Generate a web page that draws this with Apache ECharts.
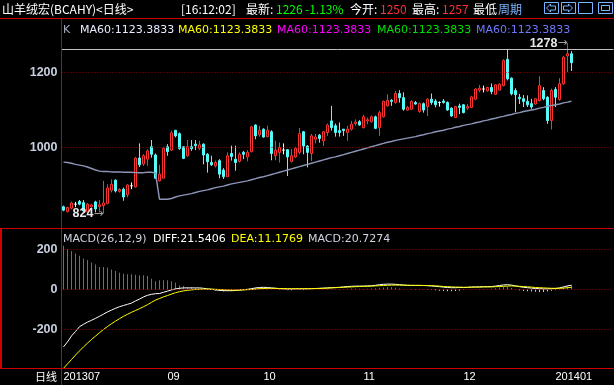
<!DOCTYPE html>
<html><head><meta charset="utf-8">
<script src="https://cdn.jsdelivr.net/npm/echarts@6/dist/echarts.min.js"></script>
<style>html,body{margin:0;padding:0;background:#000;}#c{width:614px;height:385px;}</style>
</head><body><div id="c"></div>
<script>
// ---- data ----
const opens = [
 842,829,838,849,856,853,829,842,855,842,
 845,851,886,913,883,889,874,898,895,972,
 956,969,1002,980,911,918,1002,993,1046,1037,
 1002,978,1002,1009,998,1009,982,960,951,965,
 940,922,984,969,963,987,975,989,1060,1034,
 1049,1029,1042,978,987,993,994,963,975,987,
 1042,1004,984,1022,1033,1018,1040,1071,1058,1045,
 1049,1040,1049,1064,1069,1053,1071,1069,1082,1053,
 1082,1111,1126,1120,1144,1133,1100,1102,1120,1096,
 1117,1109,1129,1124,1120,1124,1120,1105,1080,1111,
 1114,1105,1107,1129,1153,1156,1151,1160,1142,1153,
 1165,1235,1185,1152,1134,1130,1123,1117,1116,1125,
 1152,1134,1072,1155,1128,1170,1244,1250];
const closes = [
 833,840,852,849,849,831,849,847,836,847,
 852,892,902,884,888,868,900,898,972,954,
 978,991,982,918,929,998,989,1039,1031,997,
 971,1002,997,1005,1007,980,962,954,960,929,
 922,978,976,960,982,982,987,1055,1031,1046,
 1028,1046,984,993,1000,993,975,978,998,1037,
 1004,987,1031,1028,1024,1042,1060,1053,1040,1040,
 1045,1049,1062,1068,1060,1082,1074,1082,1051,1093,
 1123,1126,1123,1144,1133,1102,1107,1123,1116,1117,
 1100,1129,1120,1114,1120,1120,1100,1084,1109,1107,
 1093,1109,1135,1156,1158,1156,1160,1149,1167,1169,
 1232,1183,1143,1141,1130,1123,1114,1108,1130,1165,
 1130,1072,1152,1134,1170,1241,1250,1226];
const lows = [
 830,827,835,841,846,826,826,838,827,827,
 824,849,880,880,880,858,867,889,893,948,
 951,951,973,916,909,918,978,991,1027,994,
 969,975,991,993,993,955,933,951,947,918,
 916,922,965,938,960,969,963,987,1022,1029,
 1026,1027,966,966,960,982,924,960,972,982,
 982,947,964,1011,1013,1004,1031,1045,1029,1029,
 1031,1018,1045,1058,1058,1051,1062,1066,1049,1031,
 1080,1109,1111,1117,1120,1098,1098,1100,1114,1093,
 1093,1084,1114,1107,1109,1117,1098,1082,1080,1089,
 1091,1100,1105,1126,1147,1147,1149,1142,1140,1151,
 1163,1179,1139,1094,1116,1108,1108,1103,1114,1123,
 1126,1063,1048,1108,1125,1167,1201,1204];
const highs = [
 845,842,856,855,860,860,852,850,858,860,
 911,902,915,915,891,893,902,907,975,1011,
 982,995,1020,984,954,1002,1009,1045,1046,1040,
 1002,1020,1020,1020,1018,1011,985,978,965,969,
 945,987,1005,1005,987,991,993,1058,1062,1058,
 1051,1058,1046,1018,1013,1011,996,996,1002,1052,
 1044,1006,1036,1036,1036,1044,1064,1111,1064,1067,
 1049,1058,1071,1075,1073,1087,1080,1085,1085,1098,
 1125,1142,1129,1151,1153,1147,1111,1126,1124,1120,
 1120,1131,1144,1129,1123,1129,1123,1107,1111,1117,
 1116,1116,1138,1158,1167,1165,1162,1171,1169,1171,
 1235,1263,1187,1158,1143,1140,1139,1130,1132,1190,
 1161,1137,1157,1161,1185,1244,1278,1257];
const ma60 = [
 961,960,958,955,953,951,948,944,940,937,
 936,936,935,935,935,934,934,934,933,933,
 933,934,934,932,862,862,862,864,868,871,
 873,875,877,880,883,885,887,890,893,895,
 897,900,903,905,907,909,911,914,917,920,
 922,925,928,931,934,937,940,943,946,949,
 952,955,958,961,964,967,970,973,975,978,
 981,984,987,990,993,996,999,1002,1005,1008,
 1011,1014,1016,1019,1021,1023,1025,1027,1029,1032,
 1034,1037,1039,1042,1044,1046,1049,1051,1054,1056,
 1059,1061,1063,1066,1068,1071,1073,1076,1078,1081,
 1083,1086,1088,1091,1093,1096,1098,1100,1102,1105,
 1107,1110,1112,1114,1116,1119,1121,1123.3833];
const diff = [
 -287,-262,-232,-210,-186,-174,-163,-154,-144,-134,
 -123,-112,-103,-94,-86,-80,-74,-68,-57,-48,
 -37,-29,-24,-21,-20,-14,-8,-2,3,6,
 8,8,8,8,8,6,3,1,-2,-4,
 -6,-6,-6,-5,-3,-1,1,4,8,10,
 11,10,8,6,4,3,2,2,3,3,
 3,3,4,5,6,7,8,9,10,11,
 13,15,16,17,17,17,18,19,21,24,
 26,27,27,26,24,22,21,20,20,20,
 20,19,18,16,14,12,10,9,9,10,
 10,11,12,13,13,14,14,15,17,20,
 23,24,22,18,14,11,9,7,5,4,
 3,3,4,5,8,13,18,21.5406];
const dea = [
 -394,-372,-350,-328,-307,-287,-268,-250,-233,-216,
 -200,-185,-171,-158,-146,-134,-124,-114,-105,-96,
 -86,-76,-64,-53,-45,-37,-30,-23,-16,-11,
 -7,-4,-2,0,1,2,2,2,1,0,
 -1,-2,-3,-3,-3,-2,-1,0,2,4,
 5,6,6,6,5,5,4,4,4,4,
 4,4,4,5,5,6,7,8,9,10,
 11,12,13,14,15,16,16,17,18,19,
 20,21,22,22,22,22,21,21,21,21,
 20,20,19,18,17,15,14,13,12,12,
 11,11,12,12,12,13,13,13,14,15,
 16,17,18,17,16,15,13,12,10,9,
 8,7,6,6,6,7,9,11.1769];
const macd = [
 219,202,192,180,169,155,147,135,125,113,
 113,110,100,93,84,79,76,76,74,71,
 71,68,54,41,46,46,46,41,34,20,
 17,12,12,7,5,3,1,-2,-5,-7,
 -9,-8,-7,-5,-2,1,3,6,8,9,
 9,7,4,1,-1,-3,-4,-4,-2,-2,
 -2,-1,0,1,2,2,3,3,3,3,
 3,4,5,5,4,3,4,5,6,8,
 10,12,11,9,5,1,0,-1,-2,-2,
 -1,-2,-3,-4,-6,-7,-9,-9,-8,-6,
 -3,0,1,2,2,2,2,4,6,10,
 13,14,8,2,-4,-7,-9,-10,-11,-12,
 -12,-10,-6,-2,4,12,18,20.7274];
const monthStarts = [0, 26, 50, 75, 100, 123];
const monthLabels = ['201307', '09', '10', '11', '12', '201401'];
const priceTicks = [1000, 1200];
const macdTicks = [-200, 0, 200];
const topLineValue = 1263;
const slotCount = 138;
const headerTitle = '山羊绒宏(BCAHY)<日线>';
const headerTime = '[16:12:02]';
const headerChange = '-1.13%';

// ---- build ----
const n = opens.length;
const categories = Array.from({length: slotCount}, (_, i) => String(i));
const kData = opens.map((o, i) => [o, closes[i], lows[i], highs[i]]);
let hiIdx = 0, loIdx = 0;
highs.forEach((v, i) => { if (v > highs[hiIdx]) hiIdx = i; });
lows.forEach((v, i) => { if (v < lows[loIdx]) loIdx = i; });

const RED = '#ff3232', CYAN = '#54fcfc', FRAME = '#d00000', GRID = '#a00000';
const LEG = '11px "DejaVu Sans"';
const HDR = '12px "Noto Sans CJK SC"';
const macdItems = macd.map(v => ({value: v, itemStyle: {color: v >= 0 ? RED : CYAN, opacity: 1}}));

function t(x, y, text, fill, font, extra) {
  return Object.assign({type: 'text', x: x, y: y, silent: true, z: 120,
    style: {text: text, fill: fill, font: font || HDR, verticalAlign: 'middle'}}, extra || {});
}
function ln(x1, y1, x2, y2, stroke, w) {
  return {type: 'line', silent: true, z: 110, shape: {x1, y1, x2, y2}, style: {stroke: stroke, lineWidth: w || 1}};
}
const ICON = '#78b4ff';
function box(x, y, w, h) {
  return {type: 'rect', silent: true, z: 120, shape: {x: x + 0.5, y: y + 0.5, width: w, height: h}, style: {fill: 'none', stroke: ICON, lineWidth: 1}};
}
function poly(pts) {
  return {type: 'polygon', silent: true, z: 120, shape: {points: pts}, style: {fill: 'none', stroke: ICON, lineWidth: 1}};
}

const maTxt = 'MA60:' + ma60[n - 1].toFixed(4);
const graphic = [
  // header
  t(2, 9, headerTitle, '#ffffff'),
  t(181, 9, headerTime, '#ffffff'),
  t(246, 9, '最新:', '#ffffff'),
  t(276, 9, String(closes[n - 1]), '#00ff00'),
  t(305, 9, headerChange, '#00ff00'),
  t(350, 9, '今开:', '#ffffff'),
  t(380, 9, String(opens[n - 1]), RED),
  t(412, 9, '最高:', '#ffffff'),
  t(442, 9, String(highs[n - 1]), RED),
  t(473, 9, '最低', '#ffffff'),
  {type: 'rect', silent: true, z: 119, shape: {x: 497, y: 0, width: 117, height: 17}, style: {fill: '#000'}},
  t(498, 9, '周期', ICON),
  ln(498, 13.5, 522, 13.5, ICON, 1),
  box(544, 2, 14, 11), poly([[546.5,8],[550.5,4],[550.5,6],[555.5,6],[555.5,10],[550.5,10],[550.5,12]]),
  box(561, 2, 14, 11), poly([[572.5,8],[568.5,4],[568.5,6],[563.5,6],[563.5,10],[568.5,10],[568.5,12]]),
  box(578, 2, 14, 11), ln(578, 8.5, 587, 8.5, ICON), ln(587.5, 2, 587.5, 13, ICON), ln(589, 5.5, 591, 5.5, ICON), ln(589, 10.5, 591, 10.5, ICON),
  box(598, 2, 14, 11), box(601, 5, 8, 5),
  // MA legend
  t(63, 30, 'K', '#a8b0c0', LEG),
  t(80, 30, maTxt, '#e8ecff', LEG),
  t(178, 30, maTxt, '#ffff00', LEG),
  t(277, 30, maTxt, '#ff00ff', LEG),
  t(377, 30, maTxt, '#00e000', LEG),
  t(476, 30, maTxt, '#7078ff', LEG),
  // MACD legend
  t(63, 239, 'MACD(26,12,9)', '#d0d4e0', LEG),
  t(153, 239, 'DIFF:' + diff[n - 1].toFixed(4), '#ffffff', LEG),
  t(231, 239, 'DEA:' + dea[n - 1].toFixed(4), '#ffff00', LEG),
  t(308, 239, 'MACD:' + macd[n - 1].toFixed(4), '#d0d4e0', LEG),
  t(35, 377, '日线', '#ffffff', '11px "Noto Sans CJK SC"'),
  // frame
  ln(0, 18.5, 614, 18.5, FRAME),
  ln(61.5, 18, 61.5, 385, FRAME),
  ln(0, 228.5, 614, 228.5, FRAME),
  ln(0, 368.5, 614, 368.5, FRAME),
  ln(1, 228, 1, 369, FRAME, 2)
];

const option = {
  animation: false,
  backgroundColor: '#000',
  grid: [
    {left: 61.5, right: 0.5, top: 18.5, height: 204},
    {left: 61.5, right: 0.5, top: 229.5, height: 140}
  ],
  xAxis: [
    {type: 'category', gridIndex: 0, data: categories, boundaryGap: true,
     axisLine: {show: false}, axisTick: {show: false}, axisLabel: {show: false}, splitLine: {show: false}},
    {type: 'category', gridIndex: 1, data: categories, boundaryGap: true,
     axisLine: {show: false}, axisTick: {show: false}, splitLine: {show: false},
     axisLabel: {show: true, interval: (idx) => monthStarts.includes(idx),
       formatter: (v, idx) => { const k = monthStarts.indexOf(idx); return k >= 0 ? monthLabels[k] : ''; },
       align: 'left', color: '#ffffff', fontSize: 11, fontFamily: 'Liberation Sans', margin: 2}}
  ],
  yAxis: [
    {type: 'value', gridIndex: 0, min: 800, max: 1344, interval: 200,
     axisLine: {show: false}, axisTick: {show: false}, splitLine: {show: false},
     axisLabel: {formatter: v => priceTicks.includes(v) ? String(v) : '', color: '#c8d0e0',
       fontWeight: 'bold', fontSize: 12.5, fontFamily: 'Liberation Sans', margin: 4, showMaxLabel: false}},
    {type: 'value', gridIndex: 1, min: -400, max: 300, interval: 100,
     axisLine: {show: false}, axisTick: {show: false}, splitLine: {show: false},
     axisLabel: {formatter: v => macdTicks.includes(v) ? String(v) : '', color: '#c8d0e0',
       fontWeight: 'bold', fontSize: 12.5, fontFamily: 'Liberation Sans', margin: 4}}
  ],
  series: [
    {type: 'candlestick', xAxisIndex: 0, yAxisIndex: 0, data: kData, barWidth: 3,
     itemStyle: {color: '#000000', color0: CYAN, borderColor: RED, borderColor0: CYAN, borderColorDoji: '#ffffff', borderWidth: 1},
     markLine: {silent: true, symbol: 'none', label: {show: false},
       data: priceTicks.map(v => ({yAxis: v, lineStyle: {color: GRID, type: [1, 2], width: 1}}))
         .concat([{yAxis: topLineValue, lineStyle: {color: '#c0c0c0', type: 'solid', width: 1}}])},
     markPoint: {symbol: 'circle', symbolSize: 0, silent: true,
       data: [{coord: [hiIdx, highs[hiIdx]], value: highs[hiIdx]}, {coord: [loIdx, lows[loIdx]], value: lows[loIdx]}],
       label: {show: true, position: 'left', distance: 0, formatter: p => '{v|' + p.value + '}{a|→}',
         rich: {v: {color: '#e8e8e8', fontWeight: 'bold', fontSize: 12.5, fontFamily: 'Liberation Sans'},
                a: {color: '#a0a0a0', fontSize: 12, fontFamily: 'DejaVu Sans'}}}}},
    {type: 'line', xAxisIndex: 0, yAxisIndex: 0, data: ma60, symbol: 'none', silent: true,
     lineStyle: {color: '#8c94b8', width: 1.5}},
    {type: 'bar', xAxisIndex: 1, yAxisIndex: 1, data: macdItems, barWidth: 1, silent: true, large: false,
     itemStyle: {color: RED, borderWidth: 0}},
    {type: 'line', xAxisIndex: 1, yAxisIndex: 1, data: diff, symbol: 'none', silent: true,
     lineStyle: {color: '#ffffff', width: 1},
     markLine: {silent: true, symbol: 'none', label: {show: false},
       data: macdTicks.map(v => ({yAxis: v})), lineStyle: {color: GRID, type: [1, 2], width: 1}}},
    {type: 'line', xAxisIndex: 1, yAxisIndex: 1, data: dea, symbol: 'none', silent: true,
     lineStyle: {color: '#ffff00', width: 1}}
  ],
  graphic: graphic
};
const chart = echarts.init(document.getElementById('c'));
chart.setOption(option);
</script>
</body></html>
